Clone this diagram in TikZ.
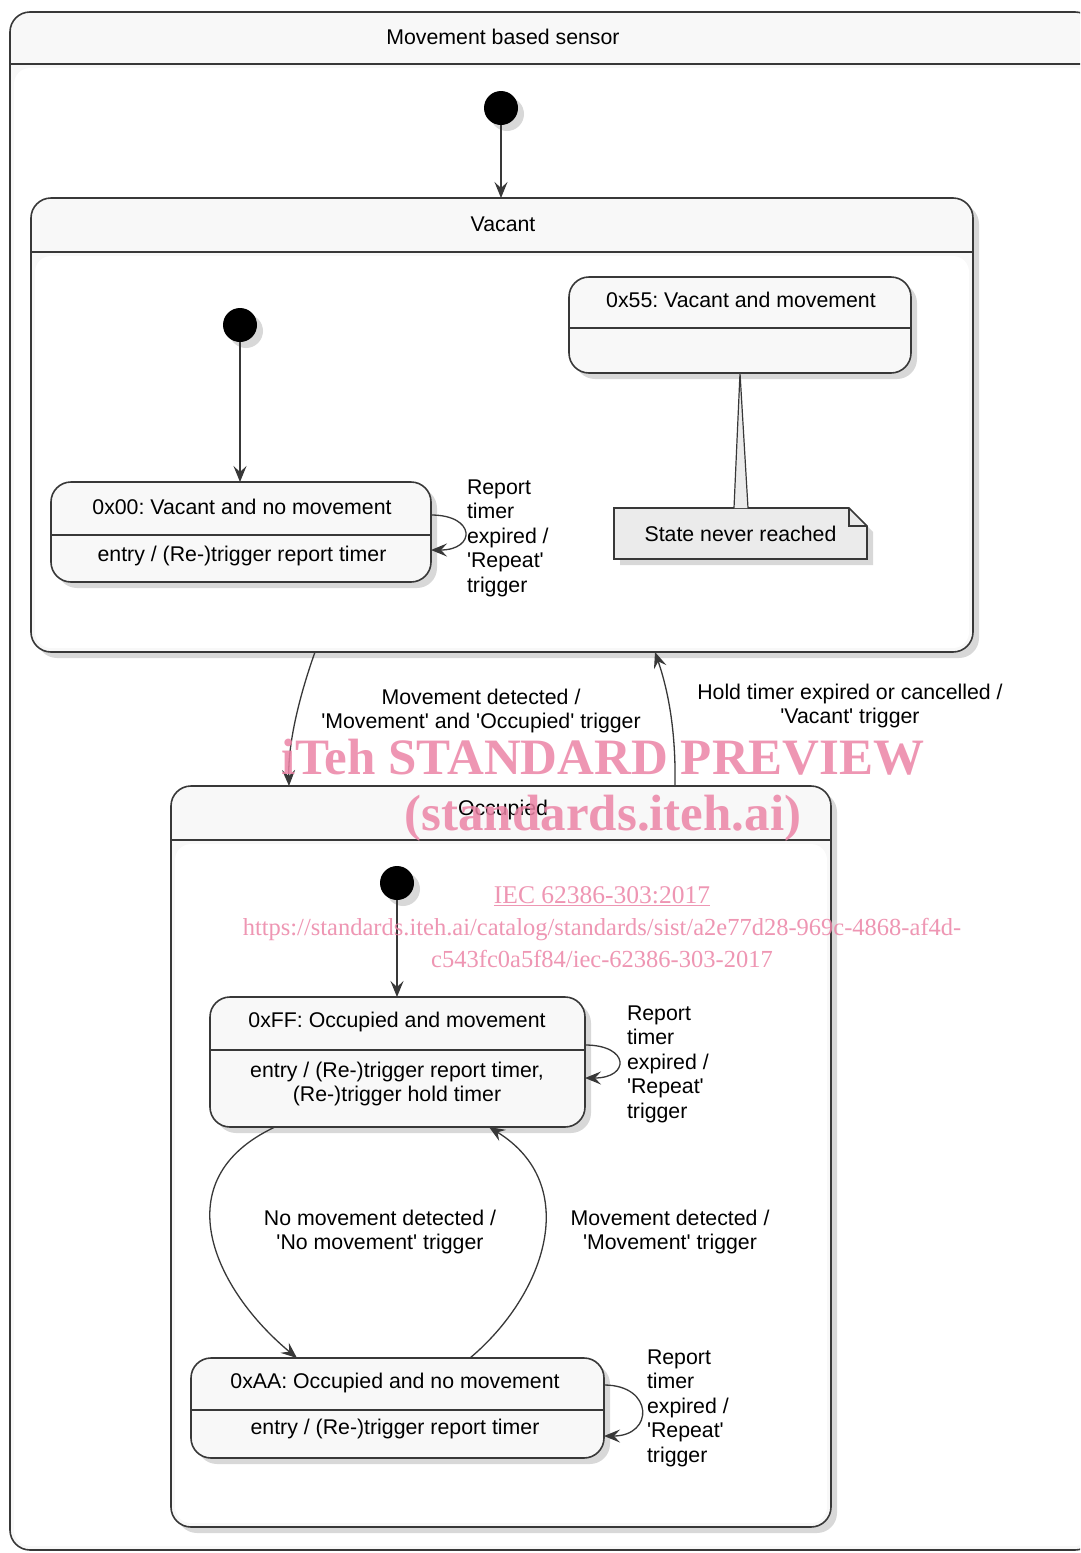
\documentclass[tikz,border=0pt]{standalone}
\usepackage{fontspec}
\setmainfont{Liberation Sans}[Ligatures=TeXOff]
\newfontfamily\wmfont{Liberation Serif}
\usetikzlibrary{positioning}
\usetikzlibrary{calc}
\usetikzlibrary{arrows.meta}
\usetikzlibrary{shadows}
\definecolor{linec}{RGB}{56,56,56}
\definecolor{boxfill}{RGB}{248,248,248}
\definecolor{notefill}{RGB}{235,235,235}
\definecolor{wmpink}{RGB}{236,132,166}
\frenchspacing

\begin{document}
\begin{tikzpicture}[x=1pt, y=-1pt,
    every node/.style={font=\fontsize{21.3}{24.5}\selectfont, inner sep=0pt, outer sep=0pt},
    shade/.style={drop shadow={shadow xshift=6pt, shadow yshift=-6pt, opacity=0.3}},
    composite/.style={draw=linec, line width=1.6pt, fill=boxfill, rounded corners=20pt},
    simple/.style={draw=linec, line width=1.6pt, fill=boxfill, rounded corners=20pt, shade},
    init/.style={circle, fill=black, minimum size=34pt, shade},
    trans/.style={draw=linec, line width=1.3pt, -{Stealth[length=16pt, width=13pt, inset=6pt]}},
    sep/.style={draw=linec, line width=1.6pt},
    lbl/.style={align=center},
    looplbl/.style={align=left},
    wm/.style={text=wmpink, text opacity=0.85, font=\wmfont\bfseries\fontsize{51}{55}\selectfont},
    wmsmall/.style={text=wmpink, text opacity=0.85, align=center, font=\wmfont\fontsize{24.5}{32}\selectfont}]
    \useasboundingbox (0,0) rectangle (1080,1553);
    \clip (0,0) rectangle (1080,1553);

    % outer state
    \node[composite, minimum width=1085pt, minimum height=1538pt] (sensor) at (552.5,781) {};
    \fill[white, rounded corners=16pt] ([shift={(4pt,-56pt)}]sensor.north west) rectangle ([shift={(-4pt,4pt)}]sensor.south east);
    \draw[sep] ([yshift=-52pt]sensor.north west) -- ([yshift=-52pt]sensor.north east);
    \node (sensorT) at (503,37) {Movement based sensor};

    % Vacant
    \node[composite, shade, minimum width=942pt, minimum height=454pt] (vac) at (502,425) {};
    \fill[white, rounded corners=16pt] ([shift={(4pt,-58pt)}]vac.north west) rectangle ([shift={(-4pt,4pt)}]vac.south east);
    \draw[sep] ([yshift=-54pt]vac.north west) -- ([yshift=-54pt]vac.north east);
    \node (vacT) at (503,224) {Vacant};

    \node[simple, minimum width=342pt, minimum height=96pt] (s55) at (740,325) {};
    \draw[sep] ([yshift=-51pt]s55.north west) -- ([yshift=-51pt]s55.north east);
    \node (s55T) at (741,300) {0x55: Vacant and movement};

    \node[simple, minimum width=380pt, minimum height=100pt] (s00) at (241,532) {};
    \draw[sep] ([yshift=-53pt]s00.north west) -- ([yshift=-53pt]s00.north east);
    \node (s00T) at (242,507) {0x00: Vacant and no movement};
    \node (s00E) at (242,556) {entry / (Re-)trigger report timer};

    \coordinate (noteNW) at (614,508);
    \coordinate (noteSE) at (867,559);
    \coordinate (noteN) at (741,508);
    \coordinate (noteFold) at (849,508);
    \draw[draw=linec, line width=1.6pt, fill=notefill, shade] (noteNW) -- (noteFold) -- ($(noteFold)+(18,18)$) -- (noteSE) -- (noteSE -| noteNW) -- cycle;
    \draw[draw=linec, line width=1.2pt] (noteFold) -- ++(0,18) -- ++(18,0);
    \draw[draw=linec, line width=1.2pt, fill=notefill] ([xshift=-7pt]noteN) -- (s55.south) -- ([xshift=7pt]noteN);
    \node (note) at ($(noteNW)!0.5!(noteSE)$) {State never reached};

    % Occupied
    \node[composite, shade, minimum width=660pt, minimum height=741pt] (occ) at (501,1156.5) {};
    \fill[white, rounded corners=16pt] ([shift={(4pt,-58pt)}]occ.north west) rectangle ([shift={(-4pt,4pt)}]occ.south east);
    \draw[sep] ([yshift=-54pt]occ.north west) -- ([yshift=-54pt]occ.north east);
    \node (occT) at (503,810) {Occupied};

    \node[simple, minimum width=375pt, minimum height=130pt] (sFF) at (397.5,1062) {};
    \draw[sep] ([yshift=-53pt]sFF.north west) -- ([yshift=-53pt]sFF.north east);
    \node (sFFT) at (397,1022) {0xFF: Occupied and movement};
    \node[lbl] (sFFE) at (397,1084) {entry / (Re-)trigger report timer,\\(Re-)trigger hold timer};

    \node[simple, minimum width=413pt, minimum height=100pt] (sAA) at (397.5,1408) {};
    \draw[sep] ([yshift=-52pt]sAA.north west) -- ([yshift=-52pt]sAA.north east);
    \node (sAAT) at (395,1383) {0xAA: Occupied and no movement};
    \node (sAAE) at (395,1429) {entry / (Re-)trigger report timer};

    \foreach \n/\x/\y in {init0/501/108, init1/240/325, init2/397/883}
        \node[init] (\n) at (\x,\y) {};

    % transitions
    \draw[trans] (init0) -- (init0 |- vac.north);
    \draw[trans] (init1) -- (init1 |- s00.north);
    \draw[trans] (init2) -- (init2 |- sFF.north);

    \draw[trans] ([yshift=17pt]s00.east) .. controls +(45,0) and +(45,0) .. ([yshift=-18pt]s00.east);
    \node[looplbl, right=36pt of s00, yshift=-6pt] (loop00) {Report\\timer\\expired /\\'Repeat'\\trigger};

    \draw[trans] ([yshift=17pt]sFF.east) .. controls +(45,0) and +(45,0) .. ([yshift=-16pt]sFF.east);
    \node[looplbl, right=42pt of sFF, yshift=-2pt] (loopFF) {Report\\timer\\expired /\\'Repeat'\\trigger};

    \draw[trans] ([yshift=23pt]sAA.east) .. controls +(50,0) and +(50,0) .. ([yshift=-28pt]sAA.east);
    \node[looplbl, right=43pt of sAA] (loopAA) {Report\\timer\\expired /\\'Repeat'\\trigger};

    \draw[trans] ([xshift=284pt]vac.south west) .. controls +(-17,48) and +(-1,-41) .. ([xshift=118pt]occ.north west);
    \node[lbl] (lblIn) at (481,711) {Movement detected /\\'Movement' and 'Occupied' trigger};

    \draw[trans] ([xshift=504pt]occ.north west) .. controls +(1,-56) and +(13,38) .. ([xshift=624pt]vac.south west);
    \node[lbl] (lblOut) at (850,706) {Hold timer expired or cancelled /\\'Vacant' trigger};

    \draw[trans] ([xshift=65pt]sFF.south west) .. controls +(-113,53) and +(-82,-68) .. ([xshift=106pt]sAA.north west);
    \node[lbl] (lblNo) at (380,1232) {No movement detected /\\'No movement' trigger};

    \draw[trans] ([xshift=279pt]sAA.north west) .. controls +(75,-63) and +(94,58) .. ([xshift=279pt]sFF.south west);
    \node[lbl] (lblYes) at (670,1232) {Movement detected /\\'Movement' trigger};

    % watermark
    \node[wm] (wm1) at (603,757) {iTeh STANDARD PREVIEW};
    \node[wm] (wm2) at (603,818) {(standards.iteh.ai)};
    \node[wmsmall, font=\wmfont\fontsize{25.5}{32}\selectfont] (wm3) at (602,896) {\underline{IEC 62386-303:2017}};
    \node[wmsmall] (wm4) at (602,943) {https://standards.iteh.ai/catalog/standards/sist/a2e77d28-969c-4868-af4d-\\c543fc0a5f84/iec-62386-303-2017};
\end{tikzpicture}
\end{document}
